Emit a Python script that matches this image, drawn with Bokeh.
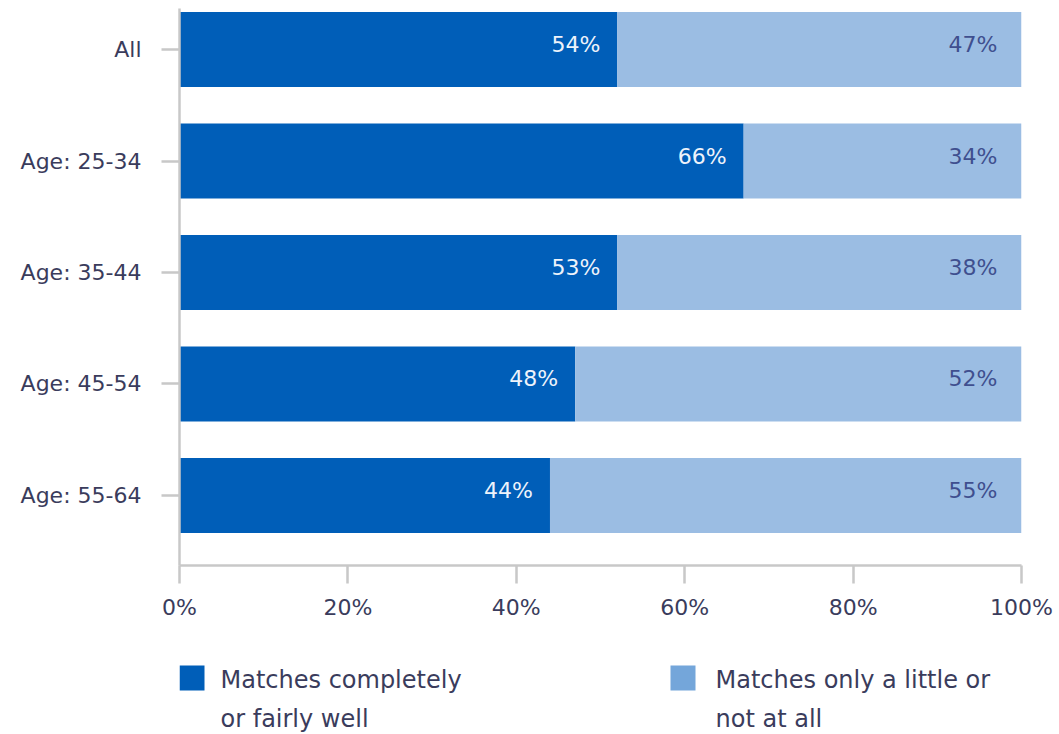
from bokeh.plotting import figure
from bokeh.layouts import column
from bokeh.models import Range1d, FixedTicker, ColumnDataSource
from bokeh.core.properties import value
from bokeh.embed import file_html
from bokeh.resources import INLINE

categories = ["All", "Age: 25-34", "Age: 35-44", "Age: 45-54", "Age: 55-64"]
dark_vals = [52, 67, 52, 47, 44]
light_vals = [48, 33, 48, 53, 56]
dark_labels = ["54%", "66%", "53%", "48%", "44%"]
light_labels = ["47%", "34%", "38%", "52%", "55%"]
x_ticks = [0, 20, 40, 60, 80, 100]
x_tick_labels = ["0%", "20%", "40%", "60%", "80%", "100%"]
legend_lines = [["Matches completely", "or fairly well"],
                ["Matches only a little or", "not at all"]]

DARK = "#005EB8"
LIGHT = "#9BBDE3"
LEGEND_LIGHT = "#74A6DA"
TXT = "#3a3c5c"
FONT = "DejaVu Sans"

LEFT, RIGHT, TOP, FRAME_W = 179, 37, 8, 842

idx = list(range(len(categories)))
src = ColumnDataSource(dict(
    y=idx,
    dark=dark_vals,
    total=[d + l for d, l in zip(dark_vals, light_vals)],
    dlab=dark_labels,
    llab=light_labels,
    full=[100] * len(idx),
))

p = figure(width=LEFT + FRAME_W + RIGHT, height=648, output_backend="svg",
           toolbar_location=None,
           x_range=Range1d(0, 100), y_range=Range1d(4.628, -0.368),
           min_border_left=LEFT, min_border_right=RIGHT, min_border_top=TOP,
           min_border_bottom=83)
p.outline_line_color = None
p.xgrid.visible = False
p.ygrid.visible = False

p.hbar(y="y", left=0, right="dark", height=0.673, color=DARK, line_color=None, source=src)
p.hbar(y="y", left="dark", right="total", height=0.673, color=LIGHT, line_color=None, source=src)

p.text(x="dark", y="y", text="dlab", source=src, x_offset=-17, y_offset=-5,
       text_align="right", text_baseline="middle", text_color="#eef3fb",
       text_font=value(FONT), text_font_size="22px")
p.text(x="full", y="y", text="llab", source=src, x_offset=-24, y_offset=-5,
       text_align="right", text_baseline="middle", text_color="#3F4F8F",
       text_font=value(FONT), text_font_size="22px")

for ax in (p.xaxis[0], p.yaxis[0]):
    ax.axis_line_color = "#c8c8c8"
    ax.axis_line_width = 2.5
    ax.major_tick_line_color = "#c8c8c8"
    ax.major_tick_line_width = 2.5
    ax.major_tick_in = 0
    ax.major_tick_out = 18
    ax.minor_tick_line_color = None
    ax.major_label_text_font = FONT
    ax.major_label_text_font_size = "22px"
    ax.major_label_text_color = TXT

p.xaxis.ticker = FixedTicker(ticks=x_ticks)
p.xaxis.major_label_overrides = {t: l for t, l in zip(x_ticks, x_tick_labels)}
p.xaxis.major_label_standoff = 11

p.yaxis.ticker = FixedTicker(ticks=idx)
p.yaxis.major_label_overrides = {i: c for i, c in zip(idx, categories)}
p.yaxis.major_label_standoff = 20

# legend figure: its frame is aligned with the main frame; x in 0-100 units
lg = figure(width=LEFT + FRAME_W + RIGHT, height=86, output_backend="svg",
            toolbar_location=None,
            x_range=Range1d(0, 100), y_range=Range1d(86, 0),
            min_border_left=LEFT, min_border_right=RIGHT,
            min_border_top=0, min_border_bottom=0)
lg.axis.visible = False
lg.grid.visible = False
lg.outline_line_color = None


def px(xpix):
    return (xpix - LEFT) / FRAME_W * 100


sq_x = [px(191.5), px(682.5)]
txt_x = [px(220), px(715)]
lg.rect(x=sq_x, y=[29.5, 29.5], width=25, height=25, width_units="screen",
        height_units="screen", color=[DARK, LEGEND_LIGHT], line_color=None)
for tx, lines in zip(txt_x, legend_lines):
    lg.text(x=[tx, tx], y=[31, 70], text=lines, text_align="left",
            text_baseline="middle", text_color=TXT,
            text_font=value(FONT), text_font_size="24px")

layout = column(p, lg)
open("out.html", "w").write(file_html(layout, INLINE))
